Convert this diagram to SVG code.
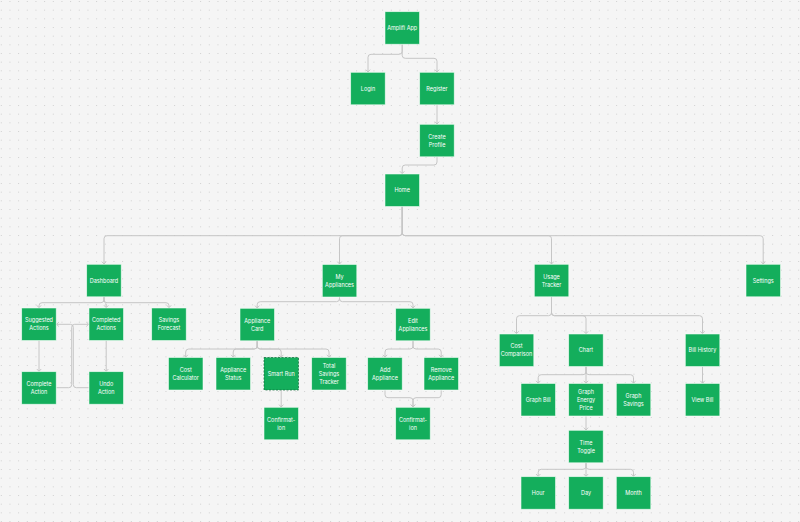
<svg xmlns="http://www.w3.org/2000/svg" width="800" height="522" viewBox="0 0 800 522">
<defs>
<pattern id="dots" x="0.8" y="1" width="8.667" height="8.667" patternUnits="userSpaceOnUse">
<rect x="0" y="0" width="1" height="1" fill="#cfcfcf"/>
</pattern>
<marker id="arr" markerWidth="8" markerHeight="8" refX="0" refY="0" viewBox="-4 -4 8 8" orient="auto" markerUnits="userSpaceOnUse">
<path d="M-2.4,-2.2 L0,0 L-2.4,2.2" fill="none" stroke="#c2c2c2" stroke-width="0.9"/>
</marker>
<style>
.n rect{fill:#14ae5c;stroke:#f2fff6;stroke-width:0.7;stroke-opacity:0.8}
.n text{font-family:Inter,"Liberation Sans",sans-serif;font-size:5.5px;fill:#ffffff;text-anchor:middle}
.c path{fill:none;stroke:#c6c6c6;stroke-width:1;marker-end:url(#arr)}
</style>
</defs>
<rect width="800" height="522" fill="#f5f5f5"/>
<rect width="800" height="522" fill="url(#dots)"/>

<g id="connectors" class="c">
<path d="M402.2,44.5 V51.3 Q402.2,54.3 399.2,54.3 H371 Q368,54.3 368,57.3 V72"/>
<path d="M402.2,44.5 V55.3 Q402.2,58.3 405.2,58.3 H434 Q437,58.3 437,61.3 V72"/>
<path d="M437,104.8 V124"/>
<path d="M437,156.8 V162 Q437,165 434,165 H405.2 Q402.2,165 402.2,168 V173.7"/>
<path d="M402.2,206.5 V232.7 Q402.2,235.7 399.2,235.7 H107 Q104,235.7 104,238.7 V264"/>
<path d="M402.2,206.5 V232.7 Q402.2,235.7 399.2,235.7 H342.5 Q339.5,235.7 339.5,238.7 V264"/>
<path d="M402.2,206.5 V232.7 Q402.2,235.7 405.2,235.7 H548.5 Q551.5,235.7 551.5,238.7 V264"/>
<path d="M402.2,206.5 V232.7 Q402.2,235.7 405.2,235.7 H760.2 Q763.2,235.7 763.2,238.7 V264"/>
<path d="M104,296.8 V299.7 Q104,302.7 101,302.7 H42 Q39,302.7 39,305.7 V307.7"/>
<path d="M104,296.8 V299.7 Q104,302.7 106.2,303.7 V307.7"/>
<path d="M104,296.8 V299.7 Q104,302.7 107,302.7 H166 Q169,302.7 169,305.7 V307.7"/>
<path d="M39,340.5 V371.4"/>
<path d="M106.2,340.5 V371.4"/>
<path d="M56.4,387.7 H68.7 Q71.7,387.7 71.7,384.7 V327.3 Q71.7,324.3 74.7,324.3 H88.7"/>
<path d="M88.8,387.7 H76.3 Q73.3,387.7 73.3,384.7 V327.3 Q73.3,324.3 70.3,324.3 H56.5"/>
<path d="M339.5,297 V298.7 Q339.5,301.7 336.5,301.7 H260.2 Q257.2,301.7 257.2,304.7 V308"/>
<path d="M339.5,297 V298.7 Q339.5,301.7 342.5,301.7 H410 Q413,301.7 413,304.7 V308"/>
<path d="M257.2,340.8 V346 Q257.2,349 254.2,349 H188.7 Q185.7,349 185.7,352 V357.2"/>
<path d="M257.2,340.8 V346 Q257.2,349 254.2,349 H236.2 Q233.2,349 233.2,352 V357.2"/>
<path d="M257.2,340.8 V346 Q257.2,349 260.2,349 H278.2 Q281.2,349 281.2,352 V357.2"/>
<path d="M257.2,340.8 V346 Q257.2,349 260.2,349 H326 Q329,349 329,352 V357.2"/>
<path d="M281.2,390.2 V407"/>
<path d="M413,340.8 V346 Q413,349 410,349 H388 Q385,349 385,352 V357.2"/>
<path d="M413,340.8 V346 Q413,349 416,349 H438.2 Q441.2,349 441.2,352 V357.2"/>
<path d="M385,390.2 V394.7 Q385,397.7 388,397.7 H410 Q413,397.7 413,400.7 V407"/>
<path d="M441.2,390.2 V394.7 Q441.2,397.7 438.2,397.7 H416 Q413,397.7 413,400.7 V407"/>
<path d="M551.5,296.8 V312.7 Q551.5,315.7 548.5,315.7 H519.5 Q516.5,315.7 516.5,318.7 V333.7"/>
<path d="M551.5,296.8 V312.7 Q551.5,315.7 554.5,315.7 H583 Q586,315.7 586,318.7 V333.7"/>
<path d="M551.5,296.8 V312.7 Q551.5,315.7 554.5,315.7 H699.5 Q702.5,315.7 702.5,318.7 V333.7"/>
<path d="M586,366.5 V371.7 Q586,374.7 583,374.7 H541.2 Q538.2,374.7 538.2,377.7 V383.2"/>
<path d="M586,366.5 V383.2"/>
<path d="M586,366.5 V371.7 Q586,374.7 589,374.7 H630.5 Q633.5,374.7 633.5,377.7 V383.2"/>
<path d="M702.5,366.5 V383.2"/>
<path d="M586,416.2 V430"/>
<path d="M586,462.8 V466.3 Q586,469.3 583,469.3 H541.2 Q538.2,469.3 538.2,472.3 V476.4"/>
<path d="M586,462.8 V476.4"/>
<path d="M586,462.8 V466.3 Q586,469.3 589,469.3 H630.5 Q633.5,469.3 633.5,472.3 V476.4"/>
</g>

<g id="n-amplifi" class="n"><rect x="385" y="11.7" width="34.5" height="32.5"/><text x="402.2" y="30">Amplifi App</text></g>
<g id="n-login" class="n"><rect x="350.7" y="72.3" width="34.5" height="32.5"/><text x="368" y="90.6">Login</text></g>
<g id="n-register" class="n"><rect x="419.7" y="72.3" width="34.5" height="32.5"/><text x="437" y="90.6">Register</text></g>
<g id="n-create-profile" class="n"><rect x="419.7" y="124.3" width="34.5" height="32.5"/><text x="437" y="138.6">Create</text><text x="437" y="146.6">Profile</text></g>
<g id="n-home" class="n"><rect x="385" y="174" width="34.5" height="32.5"/><text x="402.2" y="192.3">Home</text></g>

<g id="n-dashboard" class="n"><rect x="86.7" y="264.3" width="34.5" height="32.5"/><text x="104" y="282.6">Dashboard</text></g>
<g id="n-my-appliances" class="n"><rect x="322.3" y="264.5" width="34.5" height="32.5"/><text x="339.5" y="278.8">My</text><text x="339.5" y="286.8">Appliances</text></g>
<g id="n-usage-tracker" class="n"><rect x="534.3" y="264.3" width="34.5" height="32.5"/><text x="551.5" y="278.6">Usage</text><text x="551.5" y="286.6">Tracker</text></g>
<g id="n-settings" class="n"><rect x="746" y="264.3" width="34.5" height="32.5"/><text x="763.2" y="282.6">Settings</text></g>

<g id="n-suggested-actions" class="n"><rect x="21.7" y="308" width="34.5" height="32.5"/><text x="39" y="322.3">Suggested</text><text x="39" y="330.3">Actions</text></g>
<g id="n-completed-actions" class="n"><rect x="89" y="308" width="34.5" height="32.5"/><text x="106.2" y="322.3">Completed</text><text x="106.2" y="330.3">Actions</text></g>
<g id="n-savings-forecast" class="n"><rect x="151.7" y="308" width="34.5" height="32.5"/><text x="169" y="322.3">Savings</text><text x="169" y="330.3">Forecast</text></g>
<g id="n-complete-action" class="n"><rect x="21.7" y="371.7" width="34.5" height="32.5"/><text x="39" y="386">Complete</text><text x="39" y="394">Action</text></g>
<g id="n-undo-action" class="n"><rect x="89" y="371.7" width="34.5" height="32.5"/><text x="106.2" y="386">Undo</text><text x="106.2" y="394">Action</text></g>

<g id="n-appliance-card" class="n"><rect x="240" y="308.3" width="34.5" height="32.5"/><text x="257.2" y="322.6">Appliance</text><text x="257.2" y="330.6">Card</text></g>
<g id="n-edit-appliances" class="n"><rect x="395.7" y="308.3" width="34.5" height="32.5"/><text x="413" y="322.6">Edit</text><text x="413" y="330.6">Appliances</text></g>
<g id="n-cost-calculator" class="n"><rect x="168.5" y="357.5" width="34.5" height="32.5"/><text x="185.7" y="371.8">Cost</text><text x="185.7" y="379.8">Calculator</text></g>
<g id="n-appliance-status" class="n"><rect x="216" y="357.5" width="34.5" height="32.5"/><text x="233.2" y="371.8">Appliance</text><text x="233.2" y="379.8">Status</text></g>
<g id="n-smart-run" class="n"><rect x="264" y="357.5" width="34.5" height="32.5" style="stroke:#0b6a37;stroke-dasharray:2 1.5;stroke-opacity:1"/><text x="281.2" y="375.8">Smart Run</text></g>
<g id="n-total-savings-tracker" class="n"><rect x="311.7" y="357.5" width="34.5" height="32.5"/><text x="329" y="367.8">Total</text><text x="329" y="375.8">Savings</text><text x="329" y="383.8">Tracker</text></g>
<g id="n-add-appliance" class="n"><rect x="367.7" y="357.5" width="34.5" height="32.5"/><text x="385" y="371.8">Add</text><text x="385" y="379.8">Appliance</text></g>
<g id="n-remove-appliance" class="n"><rect x="424" y="357.5" width="34.5" height="32.5"/><text x="441.2" y="371.8">Remove</text><text x="441.2" y="379.8">Appliance</text></g>
<g id="n-confirmation-1" class="n"><rect x="264" y="407.3" width="34.5" height="32.5"/><text x="281.2" y="421.6">Confirmat-</text><text x="281.2" y="429.6">ion</text></g>
<g id="n-confirmation-2" class="n"><rect x="395.7" y="407.3" width="34.5" height="32.5"/><text x="413" y="421.6">Confirmat-</text><text x="413" y="429.6">ion</text></g>

<g id="n-cost-comparison" class="n"><rect x="499.3" y="334" width="34.5" height="32.5"/><text x="516.5" y="348.3">Cost</text><text x="516.5" y="356.3">Comparison</text></g>
<g id="n-chart" class="n"><rect x="568.7" y="334" width="34.5" height="32.5"/><text x="586" y="352.3">Chart</text></g>
<g id="n-bill-history" class="n"><rect x="685.3" y="334" width="34.5" height="32.5"/><text x="702.5" y="352.3">Bill History</text></g>
<g id="n-graph-bill" class="n"><rect x="521" y="383.5" width="34.5" height="32.5"/><text x="538.2" y="401.8">Graph Bill</text></g>
<g id="n-graph-energy-price" class="n"><rect x="568.7" y="383.5" width="34.5" height="32.5"/><text x="586" y="393.8">Graph</text><text x="586" y="401.8">Energy</text><text x="586" y="409.8">Price</text></g>
<g id="n-graph-savings" class="n"><rect x="616.3" y="383.5" width="34.5" height="32.5"/><text x="633.5" y="397.8">Graph</text><text x="633.5" y="405.8">Savings</text></g>
<g id="n-view-bill" class="n"><rect x="685.3" y="383.5" width="34.5" height="32.5"/><text x="702.5" y="401.8">View Bill</text></g>
<g id="n-time-toggle" class="n"><rect x="568.7" y="430.3" width="34.5" height="32.5"/><text x="586" y="444.6">Time</text><text x="586" y="452.6">Toggle</text></g>
<g id="n-hour" class="n"><rect x="521" y="476.7" width="34.5" height="32.5"/><text x="538.2" y="495">Hour</text></g>
<g id="n-day" class="n"><rect x="568.7" y="476.7" width="34.5" height="32.5"/><text x="586" y="495">Day</text></g>
<g id="n-month" class="n"><rect x="616.3" y="476.7" width="34.5" height="32.5"/><text x="633.5" y="495">Month</text></g>
</svg>
